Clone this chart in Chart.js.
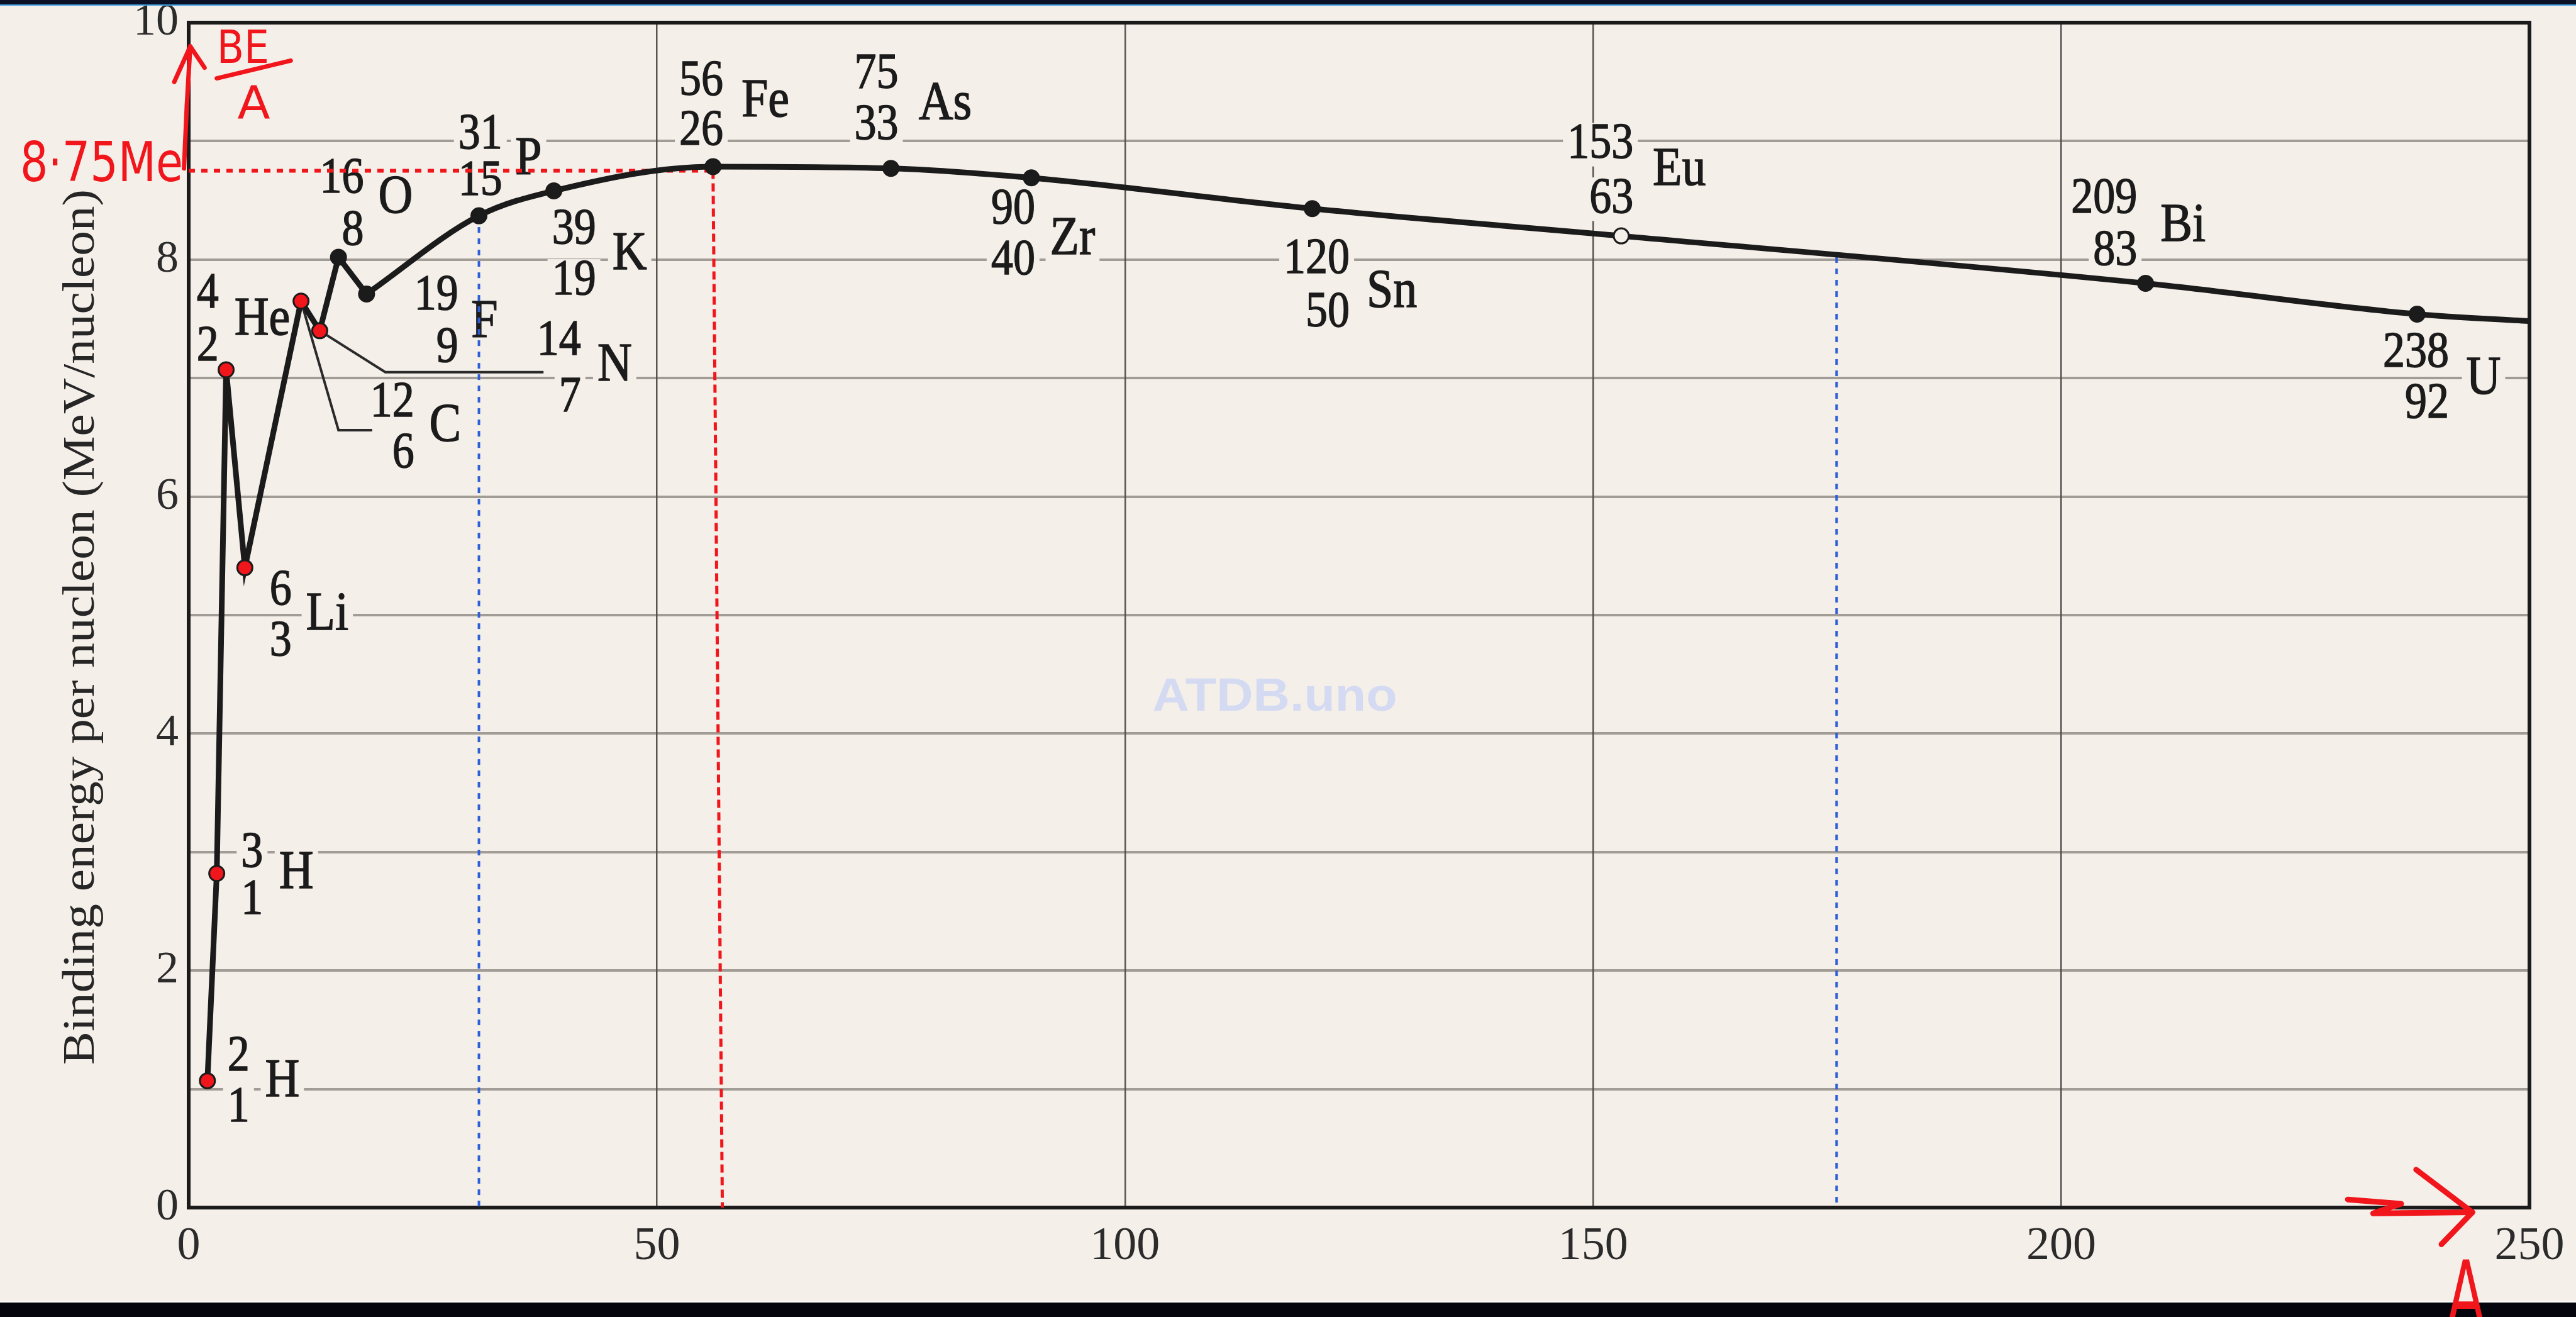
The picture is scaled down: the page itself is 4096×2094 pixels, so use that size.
<!DOCTYPE html>
<html>
<head>
<meta charset="utf-8">
<title>Binding energy per nucleon</title>
<script src="https://cdn.jsdelivr.net/npm/chart.js@4.4.1/dist/chart.umd.min.js"></script>
<style>
  html, body { margin: 0; padding: 0; background: #f5efe9; overflow: hidden; }
  #chart { display: block; }
</style>
</head>
<body>
<canvas id="chart" width="4096" height="2094"></canvas>
<script>
// ---- nuclides on the curve ----
const massNumbers   = [2, 3, 4, 6, 12, 14, 16, 19, 31, 39, 56, 75, 90, 120, 153, 209, 238];
const atomicNumbers = [1, 1, 2, 3, 6, 7, 8, 9, 15, 19, 26, 33, 40, 50, 63, 83, 92];
const symbols       = ['H', 'H', 'He', 'Li', 'C', 'N', 'O', 'F', 'P', 'K', 'Fe', 'As', 'Zr', 'Sn', 'Eu', 'Bi', 'U'];
const bindingEnergy = [1.07, 2.82, 7.07, 5.40, 7.65, 7.40, 8.02, 7.71, 8.37, 8.58, 8.785, 8.77, 8.69, 8.43, 8.20, 7.80, 7.54];

// the smooth curve runs on to the right-hand edge
const curveTailA = 250;
const curveTailBE = 7.48;

// light nuclei joined by straight segments (2H ... 19F)
const straightCount = 8;
const redMarked = ['2H', '3H', '4He', '6Li', '12C', '14N'];
const hollowMarked = ['153Eu'];

// axes
const xTickValues = [0, 50, 100, 150, 200, 250];
const yTickValues = [0, 2, 4, 6, 8, 10];
const yTitle = 'Binding energy per nucleon (MeV/nucleon)';

// hand-drawn guides
const peakLevel = 8.75;          // MeV per nucleon
const peakDropFootA = 57;
const blueGuideA = [31, 176];
const blueGuideTopBE = [8.37, 8.02];

// leader lines for the crowded C and N labels (A, BE)
const carbonLeaderA = [12, 16.0, 19.6];
const carbonLeaderBE = [7.65, 6.56, 6.56];
const nitrogenLeaderA = [14, 21.0, 37.9];
const nitrogenLeaderBE = [7.40, 7.05, 7.05];

// label anchors in axis units:
// [digits right edge A, mass-number BE, atomic-number BE, symbol centre A, symbol BE]
const labelAnchors = [
  [6.5, 1.27, 0.84, 10.0, 1.06],
  [7.95, 2.99, 2.59, 11.5, 2.82],
  [3.2, 7.71, 7.26, 7.86, 7.49],
  [11.0, 5.20, 4.77, 14.8, 5.00],
  [24.1, 6.79, 6.36, 27.4, 6.59],
  [41.9, 7.31, 6.83, 45.5, 7.10],
  [18.7, 8.68, 8.24, 22.1, 8.52],
  [28.8, 7.69, 7.25, 31.6, 7.47],
  [33.5, 9.05, 8.66, 36.3, 8.84],
  [43.5, 8.25, 7.82, 47.1, 8.04],
  [57.1, 9.50, 9.08, 61.6, 9.33],
  [75.8, 9.56, 9.13, 80.8, 9.31],
  [90.4, 8.42, 7.99, 94.4, 8.17],
  [124.0, 8.00, 7.55, 128.5, 7.72],
  [154.3, 8.97, 8.51, 159.2, 8.75],
  [208.1, 8.51, 8.07, 213.0, 8.28],
  [241.4, 7.21, 6.78, 245.1, 6.99]
];

// ---- styling ----
const PAPER = '#f5efe9';
const INK = '#1b1b1b';
const RED = '#f0161b';
const BLUE = '#2e5fd6';
const SERIF = '"Liberation Serif", "Times New Roman", serif';
const HAND = '"DejaVu Sans", sans-serif';
const DIGIT_SIZE = 70;
const SYMBOL_SIZE = 76;
const TEXT_STRETCH = 1.15;   // print is a little taller than the stock face

const keyOf = i => `${massNumbers[i]}${symbols[i]}`;
const pt = (a, be) => ({ x: a, y: be });

const straightData = massNumbers.slice(0, straightCount).map((a, i) => pt(a, bindingEnergy[i]));
const smoothIdx = massNumbers.map((_, i) => i).slice(straightCount - 1);
const smoothData = smoothIdx.map(i => pt(massNumbers[i], bindingEnergy[i])).concat([pt(curveTailA, curveTailBE)]);

const fillFor = i => redMarked.includes(keyOf(i)) ? RED : (hollowMarked.includes(keyOf(i)) ? PAPER : INK);

const ironIdx = symbols.indexOf('Fe');
const phosIdx = symbols.indexOf('P');

function guide(data, color, width, dash) {
  return { data, showLine: true, borderColor: color, borderWidth: width, borderDash: dash,
           pointRadius: 0, pointHoverRadius: 0, fill: false, order: 5, borderCapStyle: 'butt' };
}

const datasets = [
  {
    data: straightData, showLine: true, borderColor: INK, borderWidth: 9, tension: 0,
    pointRadius: 12, pointBorderWidth: 3, pointBorderColor: INK,
    pointBackgroundColor: straightData.map((_, i) => fillFor(i)), order: 0
  },
  {
    data: smoothData, showLine: true, borderColor: INK, borderWidth: 9, cubicInterpolationMode: 'monotone',
    pointRadius: smoothData.map((_, k) => (k === 0 || k === smoothData.length - 1) ? 0 : 12),
    pointBorderWidth: 3, pointBorderColor: INK,
    pointBackgroundColor: smoothData.map((_, k) => k < smoothIdx.length ? fillFor(smoothIdx[k]) : INK), order: 1
  },
  Object.assign(guide(carbonLeaderA.map((a, i) => pt(a, carbonLeaderBE[i])), '#2a2a2a', 4, []), { order: 3 }),
  Object.assign(guide(nitrogenLeaderA.map((a, i) => pt(a, nitrogenLeaderBE[i])), '#2a2a2a', 4, []), { order: 3 }),
  guide([pt(0, peakLevel), pt(massNumbers[ironIdx], peakLevel)], RED, 6, [10, 10]),
  guide([pt(massNumbers[ironIdx], peakLevel), pt(peakDropFootA, 0)], RED, 5, [13, 7]),
  guide([pt(blueGuideA[0], bindingEnergy[phosIdx]), pt(blueGuideA[0], 0)], BLUE, 4, [9, 9]),
  guide([pt(blueGuideA[1], blueGuideTopBE[1]), pt(blueGuideA[1], 0)], BLUE, 4, [9, 9])
];

function P(chart, a, be) {
  return [chart.scales.x.getPixelForValue(a), chart.scales.y.getPixelForValue(be)];
}

function labelItems(chart) {
  const items = [];
  for (let i = 0; i < massNumbers.length; i++) {
    const [ra, mBE, zBE, sa, sBE] = labelAnchors[i];
    items.push({ t: String(massNumbers[i]), p: P(chart, ra, mBE), size: DIGIT_SIZE, align: 'right' });
    items.push({ t: String(atomicNumbers[i]), p: P(chart, ra, zBE), size: DIGIT_SIZE, align: 'right' });
    items.push({ t: symbols[i], p: P(chart, sa, sBE), size: SYMBOL_SIZE, align: 'center' });
  }
  return items;
}

function handText(ctx, chart, text, aL, aR, beBase, size) {
  const [x0, yb] = P(chart, aL, beBase);
  const [x1] = P(chart, aR, beBase);
  ctx.save();
  ctx.font = `${size}px ${HAND}`;
  const w = ctx.measureText(text).width;
  ctx.translate(x0, yb);
  ctx.scale((x1 - x0) / w, 1);
  ctx.textAlign = 'left';
  ctx.textBaseline = 'alphabetic';
  ctx.fillStyle = RED;
  ctx.fillText(text, 0, 0);
  ctx.restore();
}

function handPath(ctx, chart, pts) {
  ctx.beginPath();
  pts.forEach(([a, be], k) => {
    const [x, y] = P(chart, a, be);
    if (k === 0) ctx.moveTo(x, y); else ctx.lineTo(x, y);
  });
  ctx.stroke();
}

const paperPlugin = {
  id: 'paper',
  beforeDraw(chart) {
    const ctx = chart.ctx;
    ctx.save();
    ctx.fillStyle = PAPER;
    ctx.fillRect(0, 0, chart.width, chart.height);
    ctx.restore();
  },
  beforeDatasetsDraw(chart) {
    const ctx = chart.ctx;
    const area = chart.chartArea;
    ctx.save();

    // faint site mark
    const [wx, wy] = P(chart, 116, 4.3);
    ctx.font = `bold 74px "Liberation Sans", Arial, sans-serif`;
    const ww = ctx.measureText('ATDB.uno').width;
    ctx.save();
    ctx.translate(wx, wy);
    ctx.scale(389 / ww, 1);
    ctx.fillStyle = '#d3daf2';
    ctx.textAlign = 'center';
    ctx.textBaseline = 'middle';
    ctx.fillText('ATDB.uno', 0, 0);
    ctx.restore();

    // nuclide labels sit on paper patches that interrupt the grid
    const items = labelItems(chart);
    ctx.fillStyle = PAPER;
    items.forEach(it => {
      ctx.font = `${it.size}px ${SERIF}`;
      const w = ctx.measureText(it.t).width;
      const left = it.align === 'right' ? it.p[0] - w : it.p[0] - w / 2;
      const h = it.size * 0.86 * TEXT_STRETCH;
      ctx.fillRect(left - 7, it.p[1] - h / 2, w + 14, h);
    });
    ctx.fillStyle = INK;
    ctx.strokeStyle = INK;
    ctx.lineWidth = 1.3;
    items.forEach(it => {
      ctx.save();
      ctx.font = `${it.size}px ${SERIF}`;
      ctx.textAlign = it.align;
      ctx.textBaseline = 'middle';
      ctx.translate(it.p[0], it.p[1]);
      ctx.scale(1, TEXT_STRETCH);
      ctx.fillText(it.t, 0, 0);
      ctx.strokeText(it.t, 0, 0);
      ctx.restore();
    });

    // frame
    ctx.strokeStyle = INK;
    ctx.lineWidth = 6;
    ctx.strokeRect(area.left, area.top, area.right - area.left, area.bottom - area.top);

    // vertical axis title
    ctx.save();
    ctx.translate(130, 997);
    ctx.rotate(-Math.PI / 2);
    ctx.font = `72px ${SERIF}`;
    const tw = ctx.measureText(yTitle).width;
    ctx.scale(1392 / tw, 1);
    ctx.fillStyle = '#262626';
    ctx.textAlign = 'center';
    ctx.textBaseline = 'middle';
    ctx.fillText(yTitle, 0, 0);
    ctx.restore();

    ctx.restore();
  },
  afterDraw(chart) {
    const ctx = chart.ctx;
    ctx.save();
    ctx.strokeStyle = RED;
    ctx.lineWidth = 7;
    ctx.lineCap = 'round';
    ctx.lineJoin = 'round';

    // 8.75 MeV note with an arrow up the energy axis
    handText(ctx, chart, '8·75Me', -18, -0.6, 8.66, 88);
    handPath(ctx, chart, [[-0.5, 8.77], [-0.2, 9.3], [0.17, 9.8]]);
    handPath(ctx, chart, [[-1.54, 9.5], [0.17, 9.8], [1.7, 9.62]]);

    // BE / A
    handText(ctx, chart, 'BE', 3.0, 8.6, 9.66, 73);
    handPath(ctx, chart, [[3.0, 9.53], [10.9, 9.68]]);
    handText(ctx, chart, 'A', 5.2, 8.7, 9.19, 73);

    // arrow along the mass-number axis
    ctx.lineWidth = 9;
    handPath(ctx, chart, [[230.6, 0.068], [236.3, 0.032], [233.3, -0.049], [243.9, -0.04]]);
    handPath(ctx, chart, [[237.9, 0.32], [243.9, -0.04], [240.6, -0.31]]);

    // dark bands along the top and bottom edges
    ctx.fillStyle = '#0b1226';
    ctx.fillRect(0, 0, chart.width, 7);
    ctx.fillStyle = '#3d9fe0';
    ctx.fillRect(0, 7, chart.width, 2);
    ctx.fillStyle = '#fbfaf7';
    ctx.fillRect(0, 2068, chart.width, 3);
    ctx.fillStyle = '#05050e';
    ctx.fillRect(0, 2071, chart.width, 23);

    // handwritten A under the arrow
    const [ax] = P(chart, 241.2, 0);
    ctx.font = `90px ${HAND}`;
    const aw = ctx.measureText('A').width;
    ctx.translate(ax, 2108);
    ctx.scale(60 / aw, 1.6);
    ctx.fillStyle = RED;
    ctx.textAlign = 'left';
    ctx.textBaseline = 'alphabetic';
    ctx.fillText('A', 0, 0);
    ctx.restore();
  }
};

new Chart(document.getElementById('chart'), {
  type: 'scatter',
  data: { datasets },
  options: {
    responsive: false,
    animation: false,
    devicePixelRatio: 1,
    layout: { padding: { left: 0, top: 36, right: 74, bottom: 0 } },
    plugins: { legend: { display: false }, tooltip: { enabled: false } },
    elements: { point: { hoverRadius: 0 } },
    scales: {
      x: {
        type: 'linear', min: 0, max: 250,
        border: { display: false },
        grid: {
          drawTicks: false, lineWidth: 2.5,
          color: c => (c.tick && (c.tick.value === 0 || c.tick.value === 250)) ? 'rgba(0,0,0,0)' : 'rgba(45,45,45,0.8)'
        },
        ticks: {
          stepSize: 50, autoSkip: false, maxRotation: 0, minRotation: 0, padding: 18,
          color: '#2b2b2b', font: { family: 'Liberation Serif', size: 74 },
          callback: v => xTickValues.includes(v) ? String(v) : ''
        },
        afterFit: s => { s.height = 174; s.paddingLeft = 0; s.paddingRight = 0; }
      },
      y: {
        type: 'linear', min: 0, max: 10,
        border: { display: false },
        grid: {
          drawTicks: false, lineWidth: 4,
          color: c => (c.tick && (c.tick.value === 0 || c.tick.value === 10)) ? 'rgba(0,0,0,0)' : 'rgba(80,74,70,0.5)'
        },
        ticks: {
          stepSize: 1, autoSkip: false, padding: 16,
          color: '#2b2b2b', font: { family: 'Liberation Serif', size: 72 },
          callback: v => yTickValues.includes(v) ? String(v) : ''
        },
        afterFit: s => { s.width = 300; s.paddingTop = 0; s.paddingBottom = 0; }
      }
    }
  },
  plugins: [paperPlugin]
});
</script>
</body>
</html>
